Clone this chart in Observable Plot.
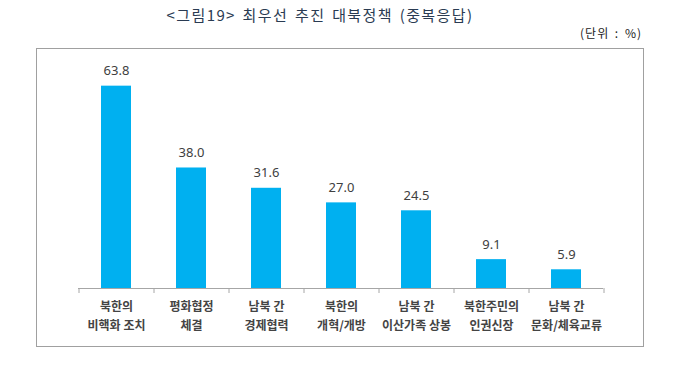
<!DOCTYPE html>
<html>
<head>
<meta charset="utf-8">
<script src="https://cdn.jsdelivr.net/npm/d3@7"></script>
<script src="https://cdn.jsdelivr.net/npm/@observablehq/plot@0.6"></script>
<style>
  html, body { margin: 0; padding: 0; background: #fff; }
  #page { position: relative; width: 680px; height: 374px; overflow: hidden; font-family: "Noto Sans CJK KR", "Noto Sans", sans-serif; }
  #title { position: absolute; left: 0; width: 640px; top: 4px; text-align: center; font-size: 15px; color: #2a3b52; letter-spacing: 1.4px; word-spacing: 2px; }
  #unit { position: absolute; right: 38px; top: 24px; font-size: 12px; color: #222; letter-spacing: 1px; word-spacing: 2px; }
  #box { position: absolute; left: 36px; top: 48px; width: 606px; height: 297px; border: 1px solid #a0a0a0; }
  #box svg { display: block; }
</style>
</head>
<body>
<div id="page">
  <div id="title">&lt;그림19&gt; 최우선 추진 대북정책 (중복응답)</div>
  <div id="unit">(단위 : %)</div>
  <div id="box"></div>
</div>
<script>
const categories = [
  "북한의\n비핵화 조치",
  "평화협정\n체결",
  "남북 간\n경제협력",
  "북한의\n개혁/개방",
  "남북 간\n이산가족 상봉",
  "북한주민의\n인권신장",
  "남북 간\n문화/체육교류"
];
const values = [63.8, 38.0, 31.6, 27.0, 24.5, 9.1, 5.9];
const valueLabels = ["63.8", "38.0", "31.6", "27.0", "24.5", "9.1", "5.9"];

const data = categories.map((c, i) => ({category: c, value: values[i], label: valueLabels[i]}));

const W = 606, H = 297, mL = 41, mR = 40, mT = 17, mB = 58;
const half = (W - mL - mR) / categories.length / 2;

const chart = Plot.plot({
  width: W,
  height: H,
  marginLeft: mL,
  marginRight: mR,
  marginTop: mT,
  marginBottom: mB,
  style: {fontFamily: "'Noto Sans CJK KR', 'Noto Sans', sans-serif", background: "transparent"},
  x: {domain: categories, paddingInner: 0.6, paddingOuter: 0.3, axis: null},
  y: {domain: [0, 70], axis: null},
  marks: [
    Plot.barY(data, {x: "category", y: "value", fill: "#00b0f0"}),
    Plot.ruleY([0], {stroke: "#a6a6a6", strokeWidth: 1}),
    Plot.ruleX(categories, {x: d => d, y1: 0, y2: 0, insetBottom: -5, dx: -half, stroke: "#a6a6a6"}),
    Plot.ruleX([categories[categories.length - 1]], {x: d => d, y1: 0, y2: 0, insetBottom: -5, dx: half, stroke: "#a6a6a6"}),
    Plot.text(data, {x: "category", y: "value", text: "label", dy: -15, fontSize: 13, fill: "#404040", fontFamily: "'Noto Sans', sans-serif"}),
    Plot.text(data, {x: "category", y: 0, text: "category", lineAnchor: "top", dy: 8, lineHeight: 1.65, fontSize: 12, fill: "#444", fontWeight: "bold"})
  ]
});
document.getElementById("box").appendChild(chart);
</script>
</body>
</html>
